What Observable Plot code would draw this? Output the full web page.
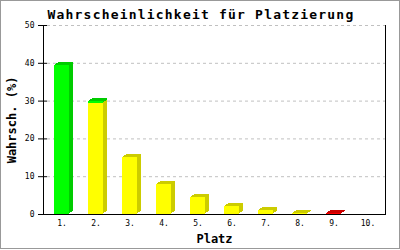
<!DOCTYPE html>
<html>
<head>
<meta charset="utf-8">
<script src="https://cdn.jsdelivr.net/npm/d3@7"></script>
<script src="https://cdn.jsdelivr.net/npm/@observablehq/plot@0.6"></script>
<style>
  html, body { margin: 0; padding: 0; background: #fff; }
  #chart { width: 400px; height: 250px; }
</style>
</head>
<body>
<div id="chart"></div>
<script>
// ---- data ----
const places = ["1.", "2.", "3.", "4.", "5.", "6.", "7.", "8.", "9.", "10."];
const redValues    = [0, 0, 0, 0, 0, 0, 0, 0.1, 0.25, 0];
const yellowValues = [0, 29.3, 15.2, 7.9, 4.5, 2.1, 1.06, 0.25, 0, 0];
const greenValues  = [39.4, 0.6, 0, 0, 0, 0, 0, 0, 0, 0];
const yTicks = [0, 10, 20, 30, 40, 50];
const title = "Wahrscheinlichkeit für Platzierung";
const yLabel = "Wahrsch. (%)";
const xLabel = "Platz";

const frontColor = {red: "#ff0000", yellow: "#ffff00", green: "#00ff00"};
const sideColor  = {red: "#cc0000", yellow: "#cccc00", green: "#00cc00"};

const rows = [];
[["red", redValues], ["yellow", yellowValues], ["green", greenValues]].forEach(([s, vals]) => {
  vals.forEach((v, i) => rows.push({place: places[i], series: s, value: v}));
});

// 3D extrusion: shifted copies of the stacked bars in the darker colour
const depth = [[4, -3], [3, -2], [2, -2], [1, -1]];
const sideMarks = depth.map(([dx, dy]) =>
  Plot.barY(rows, {x: "place", y: "value", fill: d => sideColor[d.series], z: "series", dx, dy, shapeRendering: "crispEdges"})
);

const mono = "DejaVu Sans Mono";

const plot = Plot.plot({
  width: 400,
  height: 250,
  marginLeft: 43,
  marginRight: 15,
  marginTop: 25,
  marginBottom: 36,
  style: {fontFamily: mono, fontSize: "8px", background: "#fff", overflow: "visible"},
  x: {domain: places, paddingInner: 0.56, paddingOuter: 0.28, axis: null},
  y: {domain: [0, 50], axis: null},
  color: {type: "identity"},
  marks: [
    Plot.gridY(yTicks.filter(t => t > 0), {stroke: "#c0c0c0", strokeOpacity: 1, strokeDasharray: "3,3", insetLeft: 4}),
    ...sideMarks,
    Plot.barY(rows, {x: "place", y: "value", fill: d => frontColor[d.series], z: "series", shapeRendering: "crispEdges"}),
    Plot.ruleY([0], {stroke: "#000"}),
    Plot.frame({anchor: "left", stroke: "#000"}),
    Plot.frame({anchor: "right", stroke: "#000"}),
    Plot.ruleY(yTicks, {stroke: "#000", insetRight: 338}),
    Plot.axisY({ticks: yTicks, tickSize: 5, tickPadding: 4, label: null, fontSize: 8, fill: "#000"}),
    Plot.axisX({tickSize: 0, tickPadding: 6, label: null, fontSize: 8, fill: "#000"}),
    Plot.text([title], {frameAnchor: "top-left", textAnchor: "start", lineAnchor: "bottom", dx: 4, dy: -7, fontSize: 13, fontWeight: "bold", fill: "#000", className: "title"}),
    Plot.text([yLabel], {frameAnchor: "left", textAnchor: "middle", rotate: -90, dx: -31, fontSize: 12, fontWeight: "bold", fill: "#000"}),
    Plot.text([xLabel], {frameAnchor: "bottom", lineAnchor: "bottom", dy: 28, fontSize: 12, fontWeight: "bold", fill: "#000"})
  ]
});

// letter spacing for the title to match the wide bitmap font
d3.select(plot).selectAll(".title text").style("letter-spacing", "1.2px");
// outer border
d3.select(plot).append("rect")
  .attr("x", 0.5).attr("y", 0.5).attr("width", 399).attr("height", 248)
  .attr("fill", "none").attr("stroke", "#999");

document.getElementById("chart").appendChild(plot);
</script>
</body>
</html>
